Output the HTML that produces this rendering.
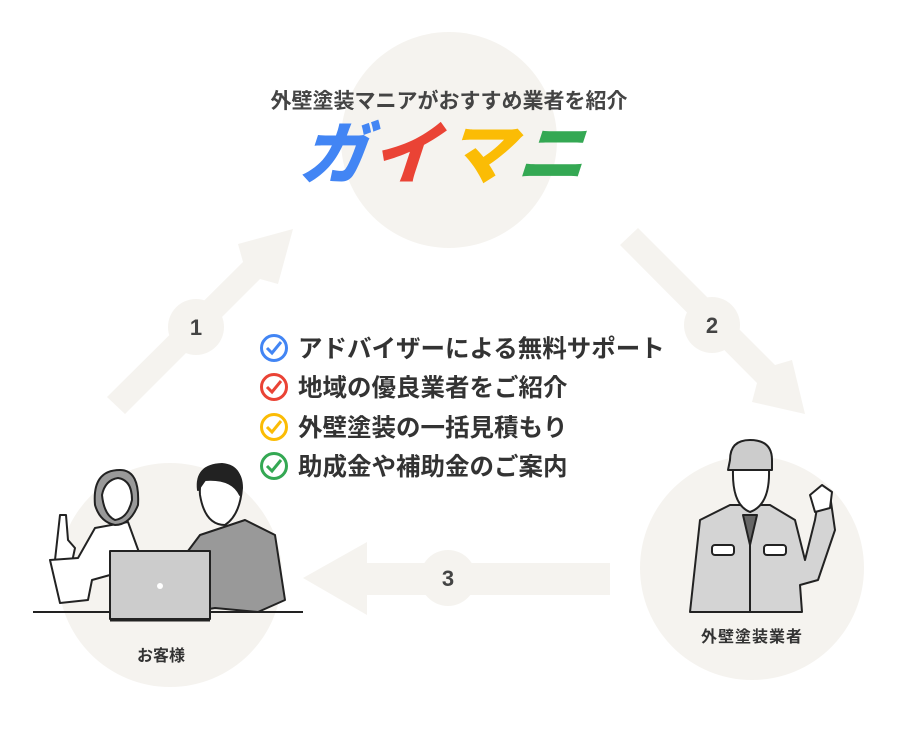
<!DOCTYPE html>
<html><head><meta charset="utf-8"><style>
html,body{margin:0;padding:0;background:#fff;}
body{width:900px;height:735px;overflow:hidden;}
text{font-family:"Liberation Sans","Noto Sans CJK JP",sans-serif;}
</style></head><body>
<svg width="900" height="735" viewBox="0 0 900 735" xmlns="http://www.w3.org/2000/svg">
<g fill="#f5f3ef">
<circle cx="449" cy="140" r="108"/>
<circle cx="170" cy="575" r="112"/>
<circle cx="752" cy="568" r="112"/>
<polygon points="107,397 125,414 260,279 278,284 293,229 238,244 243,262"/>
<circle cx="196" cy="327" r="28"/>
<polygon points="638,228 620,245 757,383 752,402 805,414 792,360 775,365"/>
<circle cx="712" cy="325" r="28"/>
<polygon points="610,563 367,563 367,542 303,578 367,615 367,595 610,595"/>
<circle cx="448" cy="578" r="28"/>
</g>
<g font-weight="bold" fill="#444" font-size="22" text-anchor="middle">
<text x="196" y="335">1</text>
<text x="712" y="333">2</text>
<text x="448" y="586">3</text>
</g>
<text x="449" y="108" text-anchor="middle" font-size="21" font-weight="bold" fill="#444">外壁塗装マニアがおすすめ業者を紹介</text>
<g font-size="68" font-weight="900">
<g transform="translate(0,178) skewX(-18)">
<text x="298" y="0" fill="#4285f4" font-family="Noto Sans CJK JP">ガ</text>
<text x="370" y="0" fill="#ea4335" font-family="Noto Sans CJK JP">イ</text>
<text x="444" y="0" fill="#fbbc05" font-family="Noto Sans CJK JP">マ</text>
<text x="516" y="0" fill="#34a853" font-family="Noto Sans CJK JP">ニ</text>
</g>
</g>
<g fill="none" stroke-width="3">
<circle cx="274" cy="348" r="12.5" stroke="#4285f4"/>
<polyline points="267,348 272,353 281,342" stroke="#4285f4"/>
<circle cx="274" cy="387" r="12.5" stroke="#ea4335"/>
<polyline points="267,387 272,392 281,381" stroke="#ea4335"/>
<circle cx="274" cy="427" r="12.5" stroke="#fbbc05"/>
<polyline points="267,427 272,432 281,421" stroke="#fbbc05"/>
<circle cx="274" cy="466" r="12.5" stroke="#34a853"/>
<polyline points="267,466 272,471 281,460" stroke="#34a853"/>
</g>
<g font-size="24.5" font-weight="bold" fill="#333">
<text x="298" y="357">アドバイザーによる無料サポート</text>
<text x="298" y="396">地域の優良業者をご紹介</text>
<text x="298" y="436">外壁塗装の一括見積もり</text>
<text x="298" y="475">助成金や補助金のご案内</text>
</g>
<g stroke="#222" stroke-width="2" stroke-linejoin="round">
<line x1="33" y1="612" x2="303" y2="612"/>
<path d="M55,560 L60,515 L66,515 L68,540 L75,548 L72,562 L62,563 Z" fill="#fff"/>
<path d="M50,560 L78,558 L95,528 L128,522 L140,555 L110,575 L92,580 L88,600 L60,603 Z" fill="#fff"/>
<path d="M95,505 Q92,470 120,470 Q140,470 138,505 Q130,525 115,525 Q100,522 95,505 Z" fill="#999"/>
<path d="M102,495 Q105,480 118,478 Q132,480 132,500 Q128,518 115,520 Q104,515 102,495 Z" fill="#fff"/>
<path d="M185,555 L200,535 L245,520 L275,535 L285,600 L258,612 L215,608 L190,612 Z" fill="#999"/>
<path d="M200,495 Q198,468 220,466 Q242,466 242,488 Q240,515 225,525 Q205,525 200,495 Z" fill="#fff"/>
<path d="M198,490 Q195,465 222,464 Q245,466 240,495 Q232,478 205,480 Z" fill="#222"/>
<rect x="110" y="551" width="100" height="68" fill="#ccc"/>
<line x1="110" y1="620" x2="210" y2="620" stroke-width="3"/>
</g>
<circle cx="160" cy="586" r="3" fill="#fff"/>
<text x="161" y="661" text-anchor="middle" font-size="16" font-weight="bold" fill="#333">お客様</text>
<g stroke="#222" stroke-width="2" stroke-linejoin="round">
<path d="M690,612 L700,520 L730,505 L770,505 L795,520 L805,560 L815,520 L820,490 L830,495 L835,530 L818,580 L800,585 L802,612 Z" fill="#d4d4d4"/>
<path d="M730,460 Q730,440 750,440 Q772,440 772,460 L772,470 L728,470 Z" fill="#ccc"/>
<path d="M733,470 L769,470 Q770,505 750,512 Q732,505 733,470 Z" fill="#fff"/>
<path d="M743,515 L750,545 L757,515 Z" fill="#666"/>
<rect x="712" y="545" width="22" height="10" rx="3" fill="#fff"/>
<rect x="764" y="545" width="22" height="10" rx="3" fill="#fff"/>
<line x1="750" y1="545" x2="750" y2="612"/>
<path d="M810,495 L822,485 L832,492 L830,508 L815,512 Z" fill="#fff"/>
</g>
<text x="752" y="642" text-anchor="middle" font-size="16" font-weight="bold" fill="#333" letter-spacing="1">外壁塗装業者</text>
</svg>
</body></html>
